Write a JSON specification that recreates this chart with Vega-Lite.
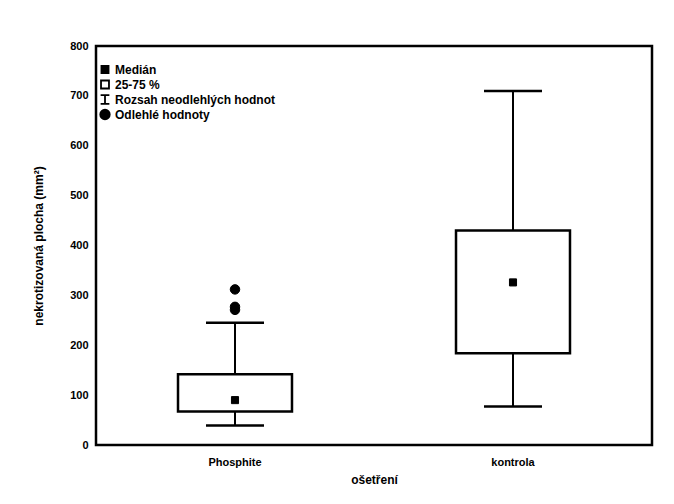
{
  "$schema": "https://vega.github.io/schema/vega-lite/v6.json",
  "autosize": "none",
  "width": 556,
  "height": 399,
  "padding": {"left": 96, "top": 46, "right": 22, "bottom": 59},
  "background": "white",
  "config": {
    "font": "Liberation Sans",
    "view": {"stroke": "black", "strokeWidth": 2.5},
    "axis": {"labelFont": "Liberation Sans", "labelFontWeight": "bold", "labelFontSize": 11, "labelColor": "black", "titleFont": "Liberation Sans", "titleFontWeight": "bold", "titleFontSize": 12, "titleColor": "black", "grid": false, "ticks": false, "domain": false},
    "legend": {"labelFont": "Liberation Sans", "labelFontWeight": "bold", "labelFontSize": 12, "labelColor": "black", "labelLimit": 400}
  },
  "datasets": {
    "boxes": [
      {"ošetření": "Phosphite", "q1": 67, "q3": 142, "median": 90, "lo": 39, "hi": 245},
      {"ošetření": "kontrola", "q1": 184, "q3": 430, "median": 326, "lo": 77, "hi": 710}
    ],
    "points": [
      {"ošetření": "Phosphite", "value": 90, "kind": "Medián"},
      {"ošetření": "kontrola", "value": 326, "kind": "Medián"},
      {"ošetření": "Phosphite", "value": 312, "kind": "Odlehlé hodnoty"},
      {"ošetření": "Phosphite", "value": 277, "kind": "Odlehlé hodnoty"},
      {"ošetření": "Phosphite", "value": 271, "kind": "Odlehlé hodnoty"}
    ]
  },
  "encoding": {
    "x": {"field": "ošetření", "type": "nominal", "sort": ["Phosphite", "kontrola"],
      "scale": {"paddingInner": 0, "paddingOuter": 0},
      "axis": {"labelAngle": 0, "labelPadding": 11, "title": "ošetření", "titlePadding": 7}}
  },
  "layer": [
    {
      "data": {"name": "boxes"},
      "mark": {"type": "rule", "stroke": "black", "strokeWidth": 2, "opacity": 1},
      "encoding": {
        "y": {"field": "lo", "type": "quantitative", "scale": {"domain": [0, 800]},
          "axis": {"values": [0, 100, 200, 300, 400, 500, 600, 700, 800], "labelPadding": 8, "title": "nekrotizovaná plocha (mm²)", "titlePadding": 24}},
        "y2": {"field": "hi"}
      }
    },
    {
      "data": {"name": "boxes"},
      "mark": {"type": "bar", "fill": "white", "stroke": "black", "strokeWidth": 2.5, "opacity": 1, "width": {"band": 0.41}},
      "encoding": {
        "y": {"field": "q1", "type": "quantitative"},
        "y2": {"field": "q3"}
      }
    },
    {
      "data": {"name": "boxes"},
      "mark": {"type": "tick", "orient": "horizontal", "color": "black", "opacity": 1, "thickness": 2.5, "size": 58},
      "encoding": {"y": {"field": "lo", "type": "quantitative"}}
    },
    {
      "data": {"name": "boxes"},
      "mark": {"type": "tick", "orient": "horizontal", "color": "black", "opacity": 1, "thickness": 2.5, "size": 58},
      "encoding": {"y": {"field": "hi", "type": "quantitative"}}
    },
    {
      "data": {"name": "points"},
      "mark": {"type": "point", "filled": true, "stroke": "black", "strokeWidth": 1, "opacity": 1},
      "encoding": {
        "y": {"field": "value", "type": "quantitative"},
        "shape": {"field": "kind", "type": "nominal",
          "scale": {"domain": ["Medián", "25-75 %", "Rozsah neodlehlých hodnot", "Odlehlé hodnoty"],
            "range": ["square", "square", "M-1,-1H1M0,-1V1M-1,1H1", "circle"]},
          "legend": {"title": null, "orient": "none", "legendX": 3, "legendY": 16, "rowPadding": 0, "clipHeight": 15, "symbolStrokeColor": "black", "symbolStrokeWidth": 1.8, "labelOffset": 4, "labelLimit": 400}},
        "fill": {"field": "kind", "type": "nominal",
          "scale": {"domain": ["Medián", "25-75 %", "Rozsah neodlehlých hodnot", "Odlehlé hodnoty"],
            "range": ["black", "white", "transparent", "black"]},
          "legend": {"title": null, "orient": "none", "legendX": 3, "legendY": 16}},
        "size": {"field": "kind", "type": "nominal",
          "scale": {"domain": ["Medián", "25-75 %", "Rozsah neodlehlých hodnot", "Odlehlé hodnoty"],
            "range": [50, 90, 130, 32]},
          "legend": {"title": null, "orient": "none", "legendX": 3, "legendY": 16}}
      }
    }
  ]
}
